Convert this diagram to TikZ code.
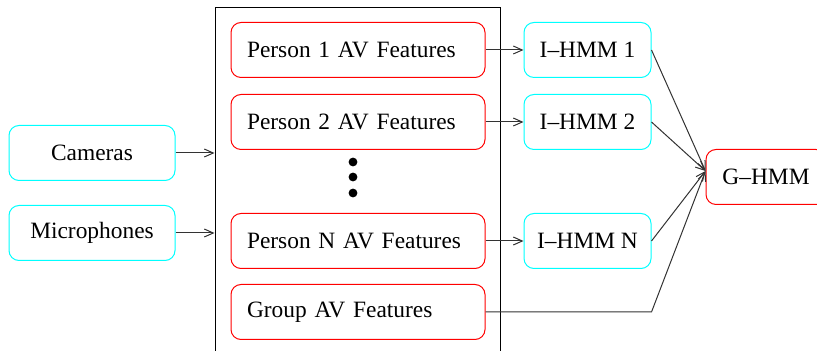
\documentclass[tikz,border=0pt]{standalone}
\usepackage{fontspec}
\setmainfont{Liberation Serif}
\usetikzlibrary{arrows.meta}
\definecolor{boxcyan}{RGB}{0,255,255}
\definecolor{boxred}{RGB}{255,0,0}
\begin{document}
\begin{tikzpicture}[x=0.5pt,y=-0.5pt,font=\fontsize{11.7}{14}\selectfont,line width=0.5pt]
\tikzset{
  inbox/.style={draw=boxcyan, rounded corners=5pt, minimum width=83pt, minimum height=27.5pt},
  feat/.style={draw=boxred, rounded corners=5pt, minimum width=127pt, minimum height=27.5pt,
    text width=111pt, align=left, inner xsep=8pt},
  hmm/.style={draw=boxcyan, rounded corners=5pt, minimum width=63.5pt, minimum height=27.5pt},
  conn/.style={-{Straight Barb[length=4.5pt,width=4pt]}, black!80}
}
\useasboundingbox (0,0) rectangle (817,351);
\clip (0,0) rectangle (817,351);
\node[draw, inner sep=0pt, minimum width=142.5pt, minimum height=181pt] (frame) at (357.5,189) {};
\node[inbox] (cam) at (92,153) {Cameras};
\node[inbox] (mic) at (92,233) {Microphones};
\node[feat] (p1) at (358,50) {Person 1 AV Features};
\node[feat] (p2) at (358,122) {Person 2 AV Features};
\node[feat] (pn) at (358,241) {Person N AV Features};
\node[feat] (grp) at (358,312) {Group AV Features};
\foreach \y in {162,177,193}
\fill (353,\y) circle (2.2pt);
\node[hmm] (h1) at (587.5,50) {I--HMM 1};
\node[hmm] (h2) at (587.5,122) {I--HMM 2};
\node[hmm] (hn) at (587.5,241) {I--HMM N};
\node[draw=boxred, rounded corners=5pt, minimum width=60pt, minimum height=27.5pt] (g) at (766,177) {G--HMM};
\draw[conn] (cam.east) -- (cam.east -| frame.west);
\draw[conn] (mic.east) -- (mic.east -| frame.west);
\draw[conn] (p1.east) -- (h1.west);
\draw[conn] (p2.east) -- (h2.west);
\draw[conn] (pn.east) -- (hn.west);
\foreach \h in {h1,h2,hn}
\draw[conn] (\h.east) -- ([yshift=3pt]g.west);
\draw[conn] (grp.east) -- (grp.east -| hn.east) -- ([yshift=3pt]g.west);
\end{tikzpicture}
\end{document}
